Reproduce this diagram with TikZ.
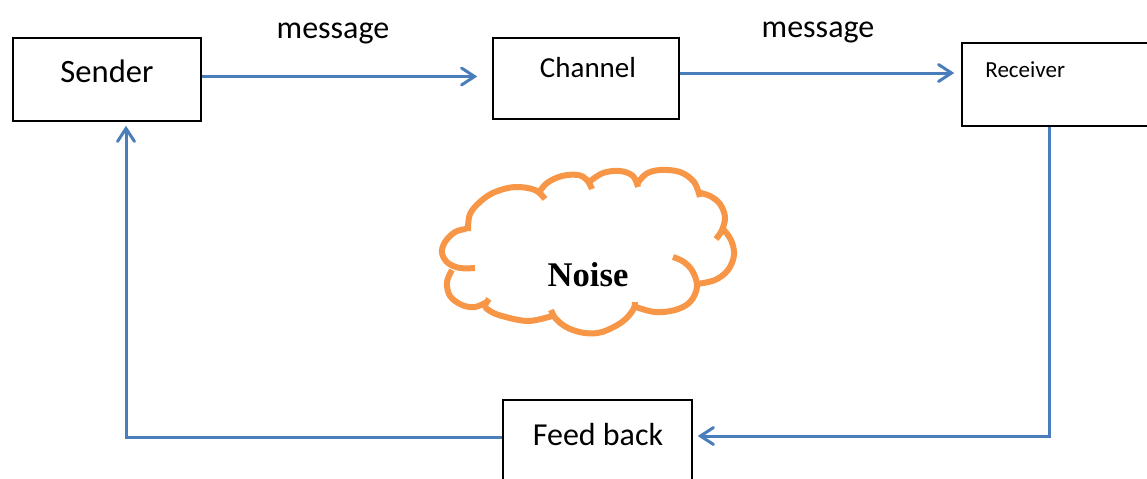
\documentclass[tikz,border=0pt]{standalone}
\usepackage{fontspec}
\setmainfont{Carlito}
\newfontfamily\noisefont{Liberation Serif}
\usetikzlibrary{arrows.meta}
\definecolor{flowblue}{HTML}{4A7EBB}
\definecolor{noiseorange}{HTML}{F79646}
\begin{document}
\begin{tikzpicture}[x=0.5pt,y=-0.5pt]
% estilos
\tikzset{
  caja/.style={draw=black,line width=0.75pt,inner sep=0pt},
  flujo/.style={draw=flowblue,line width=1.5pt,-{Straight Barb[length=6.5pt,width=8.5pt,line cap=round]}},
  rotulo/.style={inner sep=0pt,font=\fontsize{#1}{#1}\selectfont},
  nube/.style={draw=noiseorange,line width=3pt,smooth,tension=0.6},
}
\clip (0,0) rectangle (1147,478);
% cajas
\node [caja,minimum width=94pt,minimum height=41.5pt] (sender) at (107,79.5) {};
\node [caja,minimum width=93pt,minimum height=40.5pt] (channel) at (586,78.5) {};
\node [caja,minimum width=99pt,minimum height=41.5pt] (receiver) at (1061,84.5) {};
\node [caja,minimum width=94.5pt,minimum height=45pt] (feedback) at (597.5,445) {};
% textos
\node [rotulo=16.3] (tsender) at (107,71) {Sender};
\node [rotulo=14.5] (tchannel) at (588,68) {Channel};
\node [rotulo=11.5,anchor=west] (treceiver) at (985,70) {Receiver};
\node [rotulo=16] (tfeedback) at (598,434) {Feed back};
\node [rotulo=16] (msgA) at (333,33) {message};
\node [rotulo=16] (msgB) at (818,32) {message};
% nube (un trazo por cada lobulo)
\draw [nube] plot coordinates {(466,229) (455,232) (445,242) (442,253) (448,263) (460,268) (475,268)};
\draw [nube] plot coordinates {(452,270) (447,282) (450,296) (462,305) (475,307) (487,302)};
\draw [nube] plot coordinates {(489,299) (485,306) (490,311) (502,316) (528,321) (552,316)};
\draw [nube] plot coordinates {(551,310) (556,319) (568,328) (585,333) (602,332) (622,322) (633,310) (635,302)};
\draw [nube] plot coordinates {(636,307) (655,312) (675,310) (690,302) (697,287) (693,272) (684,262) (673,257)};
\draw [nube] plot coordinates {(723,229) (731,240) (734,255) (728,270) (715,280) (697,284)};
\draw [nube] plot coordinates {(697,192) (710,196) (720,204) (725,217) (722,230) (716,239)};
\draw [nube] plot coordinates {(637,184) (646,174) (660,170) (680,172) (694,182) (700,197)};
\draw [nube] plot coordinates {(589,182) (603,173) (620,171) (633,176) (638,187)};
\draw [nube] plot coordinates {(538,194) (547,183) (562,176) (578,175) (587,180) (592,189)};
\draw [nube] plot coordinates {(468,231) (470,214) (481,201) (495,192) (515,187) (535,190) (545,199)};
\node [inner sep=0pt,font=\noisefont\bfseries\fontsize{17.3}{17.3}\selectfont] (noise) at (588,275) {Noise};
% conectores
\draw [flujo] ([yshift=1.5pt]sender.east) -- ([yshift=1pt,xshift=-7.5pt]channel.west);
\draw [flujo] ([yshift=2.75pt]channel.east) -- ([yshift=5.75pt,xshift=-3.5pt]receiver.west);
\draw [flujo] ([xshift=-6pt]receiver.south) |- ([xshift=2.5pt,yshift=4.5pt]feedback.east);
\draw [flujo] ([yshift=4pt]feedback.west) -| ([xshift=9.5pt,yshift=-2pt]sender.south);
\end{tikzpicture}
\end{document}
